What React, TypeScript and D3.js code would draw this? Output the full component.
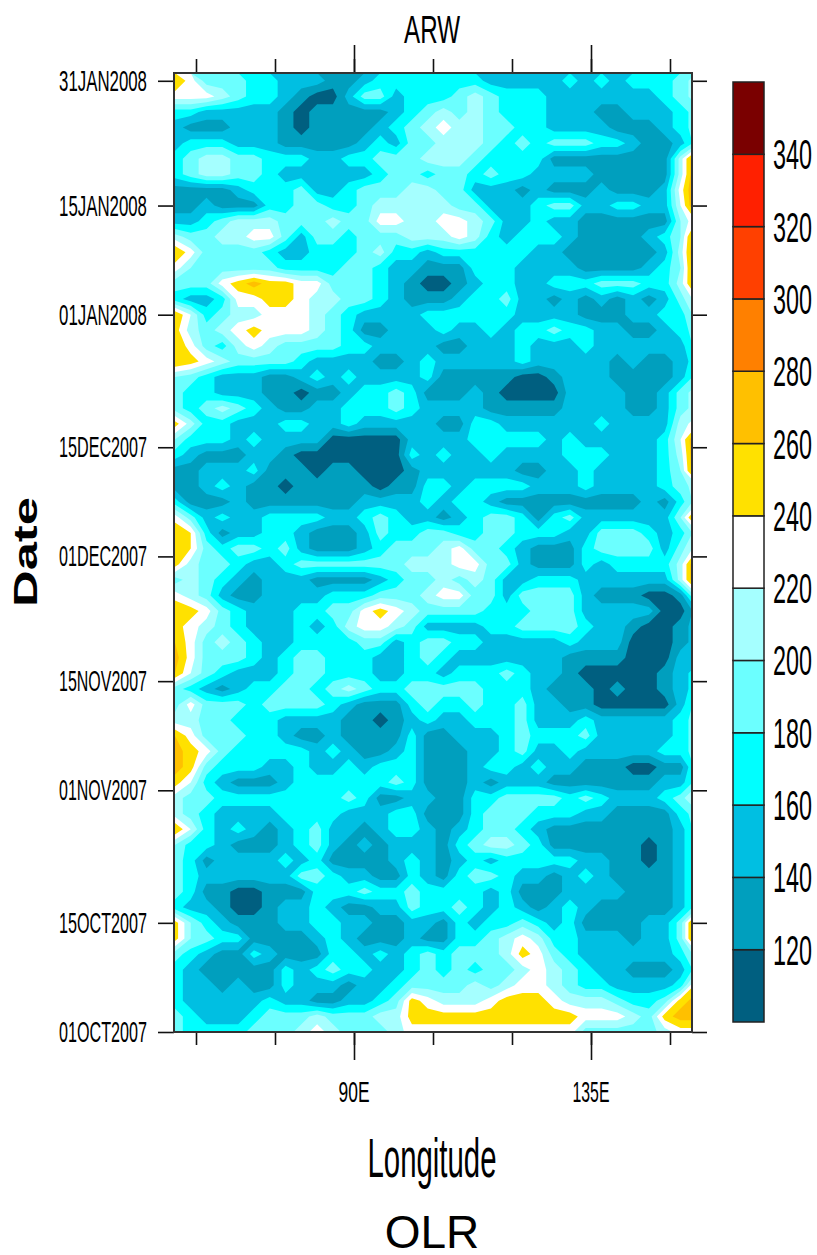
import { useEffect, useRef } from 'react'
import * as d3 from 'd3'

const W = 817, H = 1255
const LEFT = 174, RIGHT = 692, TOP = 73, BOTTOM = 1032

const dateTicks = ['2007-10-01', '2007-10-15', '2007-11-01', '2007-11-15', '2007-12-01', '2007-12-15', '2008-01-01', '2008-01-15', '2008-01-31']
const dateLabels = ['01OCT2007', '15OCT2007', '01NOV2007', '15NOV2007', '01DEC2007', '15DEC2007', '01JAN2008', '15JAN2008', '31JAN2008']
const lonMinor = [60, 75, 90, 105, 120, 135, 150]
const lonMajor = [90, 135]
const lonLabels = ['90E', '135E']
const levels = [120, 140, 160, 180, 200, 220, 240, 260, 280, 300, 320, 340]
const colors = ['#005f80', '#009fbe', '#00bfe2', '#00ffff', '#6bffff', '#a5ffff', '#ffffff', '#ffe100', '#ffc000', '#ff8000', '#ff4000', '#ff2000', '#7a0000']

// OLR in tens of W/m2, top row = 31 Jan back to 01 Oct every 2 days, 56E to 155E every 3 deg
const olr = [
  [26,23,19,19,19, 17,17,15,15,15, 13,13,15,17,17, 17,17,17,17,17, 15,15,15,15,15, 17,15,17,15,17, 17,17,19,21],
  [23,23,23,21,19, 17,17,15,13,11, 11,15,19,19,15, 17,17,17,19,21, 19,17,17,17,15, 15,15,15,15,15, 15,17,19,21],
  [17,17,15,15,15, 15,15,13,11,13, 13,13,13,13,15, 17,19,21,19,21, 19,17,17,17,15, 15,15,13,13,15, 15,15,17,19],
  [15,13,13,13,15, 15,15,13,11,13, 13,13,13,15,17, 19,21,23,21,21, 19,19,17,17,15, 15,15,15,13,13, 13,15,17,19],
  [15,17,17,17,15, 15,15,13,13,13, 13,13,15,17,15, 19,19,21,21,21, 19,17,19,17,19, 19,19,17,17,15, 13,13,15,19],
  [17,19,21,21,19, 19,17,17,17,15, 15,17,17,19,19, 19,21,21,21,19, 17,17,17,17,13, 13,13,13,13,13, 13,13,21,29],
  [17,19,21,21,19, 19,17,15,15,15, 15,15,15,17,19, 19,17,19,19,17, 19,17,17,15,15, 15,15,13,13,13, 13,13,21,29],
  [13,13,13,13,15, 17,17,17,19,15, 15,17,19,19,19, 21,21,19,19,15, 15,15,13,15,13, 13,13,15,13,13, 13,15,23,29],
  [13,13,15,13,13, 13,17,17,19,19, 17,17,19,21,21, 21,21,21,19,19, 15,15,15,17,19, 19,15,15,17,17, 15,15,22,29],
  [15,15,17,19,21, 21,21,19,19,19, 21,19,19,23,23, 21,21,23,23,21, 19,15,15,17,15, 15,13,13,13,13, 13,13,20,24],
  [21,19,19,21,21, 23,23,19,15,19, 19,17,19,19,19, 21,21,21,23,21, 17,15,17,17,17, 15,13,13,13,13, 15,17,20,29],
  [26,23,19,19,19, 19,17,15,15,17, 17,17,19,21,17, 17,15,17,17,17, 17,17,17,15,15, 13,13,13,13,13, 13,15,21,29],
  [23,20,19,19,19, 19,19,17,17,17, 17,19,19,17,15, 15,13,13,13,17, 17,17,15,15,15, 15,13,13,13,13, 15,17,20,29],
  [19,19,19,23,25, 27,25,25,23,23, 19,19,19,17,15, 13,11,11,13,15, 17,17,15,15,17, 17,17,19,19,19, 17,17,21,28],
  [17,15,15,17,23, 23,25,25,23,21, 21,19,19,17,15, 13,13,13,15,17, 17,19,15,15,13, 15,13,15,13,15, 13,15,19,23],
  [26,22,17,19,21, 21,23,23,23,21, 19,17,15,15,15, 15,17,17,17,17, 17,17,15,15,15, 15,13,13,13,15, 15,17,17,21],
  [25,21,19,21,23, 25,23,23,23,21, 19,17,13,13,15, 15,15,17,15,15, 17,15,17,17,19, 17,17,15,15,13, 13,15,17,19],
  [26,23,19,17,21, 23,21,19,19,19, 19,17,17,15,15, 15,15,13,13,15, 15,15,17,15,15, 15,17,15,15,15, 15,15,15,19],
  [26,25,23,21,19, 19,19,19,17,15, 15,15,15,13,13, 15,17,15,15,15, 15,15,17,15,15, 15,15,15,13,15, 13,13,15,17],
  [20,19,17,15,15, 15,13,13,15,17, 15,17,15,15,15, 15,17,13,13,13, 13,13,11,11,13, 15,15,15,13,13, 13,13,15,19],
  [19,17,17,15,15, 15,13,13,11,13, 13,15,17,17,19, 17,13,13,13,15, 13,11,11,11,11, 15,15,15,15,13, 13,15,19,21],
  [19,17,19,21,19, 17,15,13,13,15, 15,17,17,17,19, 17,15,15,15,15, 13,13,13,13,13, 15,15,15,15,13, 13,15,19,21],
  [25,21,17,17,15, 15,15,17,17,15, 15,17,15,15,15, 15,15,13,13,17, 17,15,15,15,15, 15,15,17,15,15, 15,15,21,23],
  [20,17,17,17,15, 17,15,15,15,15, 11,11,11,11,11, 15,15,15,15,17, 17,17,17,17,15, 17,15,15,15,15, 15,17,22,29],
  [17,15,13,13,13, 15,15,13,11,11, 11,11,11,11,11, 17,15,17,15,15, 17,15,15,15,15, 17,17,17,15,15, 15,17,21,29],
  [13,13,15,15,15, 17,13,13,13,11, 13,13,11,11,11, 13,15,15,15,15, 15,15,13,13,15, 15,17,15,15,15, 15,17,20,29],
  [13,13,15,17,15, 13,13,11,13,13, 13,13,13,11,13, 13,17,17,15,17, 17,17,17,15,15, 15,17,15,15,15, 15,17,19,21],
  [17,13,13,13,15, 13,13,13,13,13, 13,13,15,15,15, 15,17,15,17,17, 15,13,13,13,13, 13,13,13,13,13, 15,13,17,21],
  [23,19,15,17,15, 15,17,17,17,17, 15,15,17,19,17, 15,15,13,15,17, 19,19,17,13,17, 19,15,15,15,15, 15,15,20,28],
  [26,24,17,13,15, 15,17,17,15,13, 13,13,15,19,17, 17,19,19,17,17, 19,19,17,17,17, 15,15,19,19,19, 17,15,17,21],
  [26,24,19,17,19, 19,17,19,15,13, 13,13,15,17,19, 19,19,21,23,19, 19,17,15,13,13, 13,17,19,19,19, 19,15,19,23],
  [25,21,19,19,17, 15,15,17,19,19, 19,19,19,19,19, 21,21,21,23,23, 19,19,15,13,13, 13,17,15,17,17, 17,17,21,29],
  [19,21,19,17,15, 13,15,15,15,13, 13,13,13,15,17, 19,19,21,19,21, 19,15,15,17,17, 17,15,15,15,15, 15,15,21,29],
  [23,21,19,15,13, 13,15,15,15,15, 17,17,17,19,19, 19,21,23,23,19, 19,15,19,19,19, 19,15,13,13,13, 11,11,13,21],
  [26,25,23,19,17, 15,15,15,17,17, 19,19,23,25,23, 21,19,19,19,19, 17,17,17,19,19, 19,15,15,15,15, 15,11,11,15],
  [25,23,21,19,17, 15,15,15,17,15, 17,21,23,23,21, 19,15,15,15,15, 17,17,19,19,19, 19,17,15,15,13, 11,11,13,15],
  [26,23,19,21,19, 17,15,15,17,17, 17,17,19,19,15, 17,19,19,17,17, 15,15,15,15,15, 17,15,15,15,11, 11,11,13,15],
  [27,23,19,19,19, 17,15,17,19,19, 17,17,17,15,15, 17,19,17,15,15, 15,15,15,15,15, 13,13,13,13,11, 11,11,15,15],
  [26,22,19,17,15, 15,15,17,19,19, 17,17,17,15,15, 17,17,15,17,17, 17,19,17,15,15, 13,11,11,11,11, 11,13,15,17],
  [19,17,15,13,15, 17,17,19,19,17, 19,21,19,17,17, 19,19,19,19,19, 17,17,17,15,13, 13,13,11,13,11, 11,13,15,17],
  [19,23,19,19,19, 17,19,19,19,19, 17,15,13,13,13, 17,19,17,17,19, 17,17,19,15,15, 13,13,11,11,11, 11,11,15,19],
  [21,21,19,19,17, 17,17,15,15,15, 15,13,13,11,13, 15,17,15,15,17, 17,17,19,15,15, 15,17,15,15,15, 15,15,17,19],
  [26,23,19,19,19, 17,17,15,13,13, 15,13,13,13,13, 17,13,13,15,15, 15,17,19,17,17, 17,19,15,15,15, 15,15,17,19],
  [27,25,23,19,17, 17,17,17,17,15, 17,15,13,13,15, 17,13,13,13,15, 15,17,19,15,15, 17,15,15,15,15, 15,17,17,19],
  [27,25,19,17,17, 17,15,15,17,15, 15,17,15,17,17, 17,13,13,13,15, 17,17,15,17,15, 15,13,13,13,11, 11,13,13,19],
  [25,22,17,15,13, 13,13,15,17,17, 17,17,17,17,19, 17,13,13,13,15, 13,15,15,15,13, 13,13,13,13,13, 13,15,15,19],
  [21,19,19,17,17, 17,17,17,17,17, 17,19,17,13,13, 15,15,13,13,17, 17,19,19,19,19, 17,19,17,15,15, 15,17,19,23],
  [21,19,17,15,15, 15,15,17,17,17, 17,15,15,15,17, 17,13,13,13,17, 19,19,19,17,17, 17,15,15,13,13, 13,13,17,19],
  [26,22,17,15,17, 15,13,15,17,19, 15,15,13,15,17, 17,15,13,15,17, 19,19,17,15,13, 13,13,13,13,13, 13,13,15,19],
  [20,17,17,15,13, 13,13,15,17,19, 15,13,15,13,15, 15,15,13,17,19, 21,21,19,17,13, 13,13,13,13,13, 11,13,15,19],
  [19,17,13,15,15, 15,15,17,15,17, 13,13,13,13,15, 17,15,13,15,17, 15,17,17,17,17, 17,15,15,13,13, 11,13,15,19],
  [19,17,15,15,15, 15,15,15,19,19, 17,15,15,13,13, 17,15,13,17,19, 19,17,15,15,13, 15,17,15,13,13, 13,13,15,19],
  [19,17,13,13,11, 11,13,13,13,17, 17,17,19,17,17, 19,17,17,17,17, 15,17,13,13,13, 15,15,15,15,13, 13,13,15,19],
  [17,15,15,13,11, 11,13,15,15,17, 15,13,13,15,15, 19,17,17,19,17, 15,17,15,13,15, 17,15,13,13,13, 13,13,15,19],
  [25,20,17,15,13, 13,13,15,15,17, 17,15,15,13,13, 15,15,13,17,15, 17,17,19,17,15, 17,13,13,13,13, 15,15,19,29],
  [25,20,19,17,17, 13,13,13,13,15, 17,15,13,13,13, 15,13,13,17,17, 19,21,23,21,17, 17,15,15,15,13, 15,15,19,29],
  [19,17,15,13,13, 17,15,13,13,13, 17,17,15,17,15, 17,19,17,19,19, 19,21,25,23,19, 17,15,15,15,15, 15,15,17,21],
  [17,15,13,13,13, 13,13,17,15,17, 19,17,17,15,15, 17,19,17,19,17, 19,19,21,23,21, 19,17,15,15,13, 13,13,15,19],
  [17,15,15,13,15, 13,13,17,15,15, 15,13,15,15,17, 19,19,19,19,21, 19,21,23,23,21, 19,17,17,15,15, 15,15,17,25],
  [17,15,15,15,15, 15,17,15,15,13, 13,15,15,17,19, 25,23,21,21,21, 23,25,25,25,23, 21,21,21,19,17, 17,19,25,27],
  [19,17,15,15,15, 17,19,19,19,21, 19,19,19,21,21, 25,25,25,25,25, 25,25,25,25,25, 25,23,23,23,21, 19,25,27,27],
  [19,17,17,17,17, 19,19,19,21,23, 21,19,19,19,21, 23,23,23,23,23, 23,23,23,23,23, 23,19,19,19,19, 19,21,23,23],
]

export default function App() {
  const ref = useRef<SVGSVGElement>(null)

  useEffect(() => {
    if (!ref.current) return
    const svg = d3.select(ref.current)
    svg.selectAll('*').remove()

    const x = d3.scaleLinear().domain([90, 135]).range([354, 591])
    const t0 = Date.UTC(2007, 9, 1)
    const t1 = Date.UTC(2008, 1, 1)
    const y = d3.scaleUtc().domain([t0, t1]).range([BOTTOM, TOP])
    const fill = d3.scaleThreshold<number, string>().domain(levels).range(colors)

    const nx = olr[0].length, ny = olr.length
    const values = olr.flat().map(v => v * 10)
    const contours = d3.contours().size([nx, ny]).thresholds(levels)(values)
    // grid cell centres sit at +0.5 in contour coordinates
    const path = d3.geoPath(d3.geoTransform({
      point(cx, cy) {
        const lon = 56 + (cx - 0.5) * 3
        const day = 122 - (cy - 0.5) * 2
        this.stream.point(x(lon), y(t0 + day * 864e5))
      },
    }))

    svg.append('clipPath').attr('id', 'plot')
      .append('rect').attr('x', LEFT).attr('y', TOP).attr('width', RIGHT - LEFT).attr('height', BOTTOM - TOP)

    const field = svg.append('g').attr('clip-path', 'url(#plot)')
    field.append('rect').attr('x', LEFT).attr('y', TOP).attr('width', RIGHT - LEFT).attr('height', BOTTOM - TOP)
      .attr('fill', colors[0])
    field.selectAll('path').data(contours).join('path')
      .attr('d', d => path(d))
      .attr('fill', d => fill(d.value))

    // Tick marks on all four sides
    const dates = dateTicks.map(d => new Date(d + 'T00:00:00Z').getTime())
    const tickLine = (g: any) => {
      g.select('.domain').remove()
      g.selectAll('line').attr('stroke', '#111').attr('stroke-width', 1.6)
    }
    const axisY = (dx: number, size: number, left: boolean) => {
      const a = left ? d3.axisLeft(y) : d3.axisRight(y)
      svg.append('g').attr('transform', `translate(${dx},0)`)
        .call(a.tickValues(dates as any).tickSize(size).tickFormat(() => ''))
        .call(tickLine as any)
    }
    axisY(LEFT, 16, true)
    axisY(RIGHT, 15, false)

    const axisX = (dy: number, ticks: number[], size: number, bottom: boolean) => {
      const a = bottom ? d3.axisBottom(x) : d3.axisTop(x)
      svg.append('g').attr('transform', `translate(0,${dy})`)
        .call(a.tickValues(ticks).tickSize(size).tickFormat(() => ''))
        .call(tickLine as any)
    }
    axisX(BOTTOM, lonMinor, 13, true)
    axisX(BOTTOM, lonMajor, 28, true)
    axisX(TOP, lonMinor, 14, false)
    axisX(TOP, lonMajor, 28, false)

    svg.append('rect').attr('x', LEFT).attr('y', TOP).attr('width', RIGHT - LEFT).attr('height', BOTTOM - TOP)
      .attr('fill', 'none').attr('stroke', '#333').attr('stroke-width', 2)

    // The original text is stretched tall, so squeeze each label to its measured width
    const squeezed = (tx: number, ty: number, s: string, size: number, len: number) => {
      const t = svg.append('text').attr('text-anchor', 'middle')
        .attr('font-family', '"Liberation Sans", Arial, sans-serif').attr('font-size', size)
        .attr('fill', '#000').text(s)
      const sx = len / (t.node() as SVGTextElement).getComputedTextLength()
      t.attr('transform', `translate(${tx},${ty}) scale(${sx},1)`)
    }

    dateLabels.forEach((s, i) => {
      squeezed(103, y(dates[i]) + 10, s, 29, 88)
    })
    lonLabels.forEach((s, i) => {
      squeezed(x(lonMajor[i]), 1102, s, 29, s.length === 3 ? 31 : 37)
    })

    squeezed(432, 43, 'ARW', 39, 56)
    squeezed(432, 1177, 'Longitude', 55, 129)

    svg.append('text').attr('x', 432).attr('y', 1248).attr('text-anchor', 'middle')
      .attr('font-family', '"Liberation Sans", Arial, sans-serif').attr('font-size', 46).text('OLR')

    svg.append('text').attr('transform', 'translate(37,552) rotate(-90)').attr('text-anchor', 'middle')
      .attr('font-family', '"Liberation Sans", Arial, sans-serif').attr('font-weight', 700).attr('font-size', 34)
      .attr('textLength', 110).attr('lengthAdjust', 'spacingAndGlyphs').text('Date')

    // Colour bar, one box per band
    const cb = d3.scaleLinear().domain([100, 360]).range([1022, 82])
    const edges = [100, ...levels, 360]
    svg.append('g').selectAll('rect').data(colors).join('rect')
      .attr('x', 733).attr('width', 31)
      .attr('y', (_, i) => cb(edges[i + 1]))
      .attr('height', (_, i) => cb(edges[i]) - cb(edges[i + 1]))
      .attr('fill', d => d).attr('stroke', '#222').attr('stroke-width', 1.5)
    levels.forEach(v => {
      squeezed(792.5, cb(v) + 15, String(v), 43, 39)
    })
  }, [])

  return <svg ref={ref} width={W} height={H} style={{ position: 'absolute', left: 0, top: 0, background: '#fff' }} />
}
